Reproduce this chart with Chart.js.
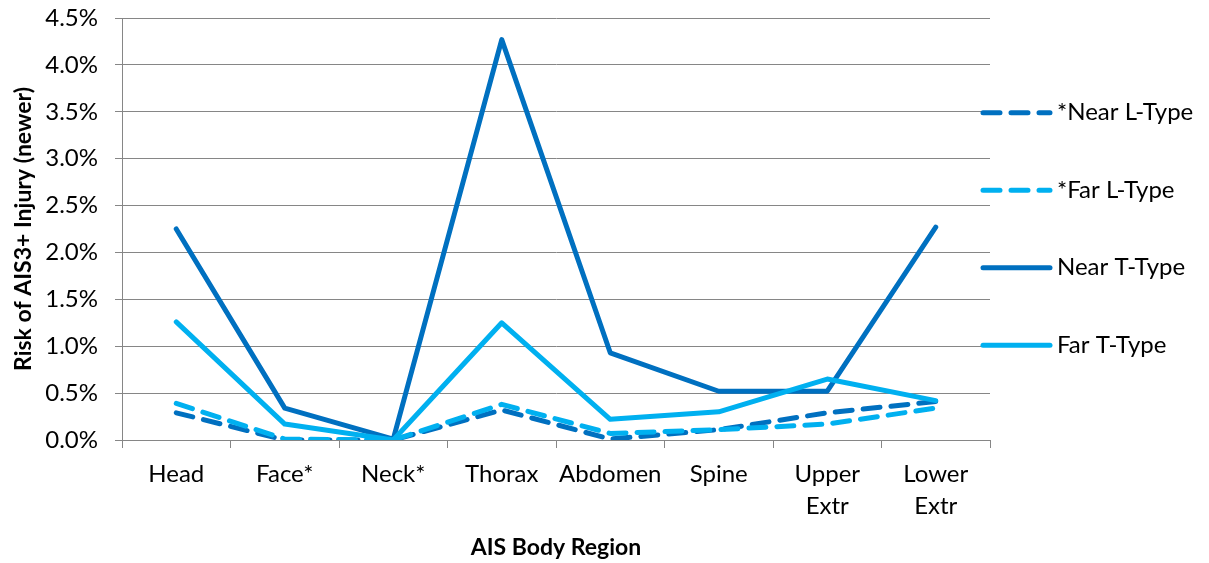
<!DOCTYPE html>
<html>
<head>
<meta charset="utf-8">
<script src="https://cdn.jsdelivr.net/npm/chart.js@4.4.0/dist/chart.umd.min.js"></script>
<style>
  html, body { margin: 0; padding: 0; background: #fff; }
  #box { width: 1209px; height: 563px; }
</style>
</head>
<body>
<div id="box"><canvas id="grafico"></canvas></div>
<script>
// dati (valori in %)
var regioni = ['Head', 'Face*', 'Neck*', 'Thorax', 'Abdomen', 'Spine', ['Upper', 'Extr'], ['Lower', 'Extr']];
var nomiSerie = ['*Near L-Type', '*Far L-Type', 'Near T-Type', 'Far T-Type'];
var nearL = [0.29, 0.00, 0.00, 0.32, 0.01, 0.11, 0.29, 0.41];
var farL = [0.39, 0.01, 0.00, 0.38, 0.07, 0.11, 0.17, 0.34];
var nearT = [2.25, 0.34, 0.01, 4.27, 0.93, 0.52, 0.52, 2.27];
var farT = [1.26, 0.17, 0.00, 1.25, 0.22, 0.30, 0.65, 0.42];
var tickY = [0, 0.5, 1.0, 1.5, 2.0, 2.5, 3.0, 3.5, 4.0, 4.5];

var scuro = '#0070C0';
var chiaro = '#00B0F0';
var grigio = '#868686';
var font = 'Lato';

function serie(nome, valori, colore, tratteggio, ordine) {
    return {
        label: nome,
        data: valori,
        borderColor: colore,
        backgroundColor: colore,
        borderWidth: 5,
        borderDash: tratteggio,
        borderCapStyle: 'round',
        borderJoinStyle: 'round',
        pointRadius: 0,
        tension: 0,
        fill: false,
        order: ordine
    };
}

// legenda disegnata a mano (quella di Chart.js non permette la spaziatura giusta)
var legendaDestra = {
    id: 'legendaDestra',
    afterDraw: function (chart) {
        var ctx = chart.ctx;
        var area = chart.chartArea;
        var centro = (area.top + area.bottom) / 2;
        var passo = 77.5;
        var ds = chart.data.datasets;
        ctx.save();
        for (var i = 0; i < ds.length; i++) {
            var y = centro + (i - (ds.length - 1) / 2) * passo;
            ctx.strokeStyle = ds[i].borderColor;
            ctx.lineWidth = ds[i].borderWidth;
            ctx.lineCap = 'round';
            ctx.setLineDash(ds[i].borderDash);
            ctx.beginPath();
            ctx.moveTo(983, y);
            ctx.lineTo(1050, y);
            ctx.stroke();
            ctx.setLineDash([]);
            ctx.fillStyle = '#000';
            ctx.font = '24px ' + font;
            ctx.textBaseline = 'middle';
            ctx.textAlign = 'left';
            ctx.fillText(ds[i].label, 1057, y);
        }
        ctx.restore();
    }
};

var ctx = document.getElementById('grafico').getContext('2d');
var chart = new Chart(ctx, {
    type: 'line',
    data: {
        labels: regioni,
        datasets: [
            serie(nomiSerie[0], nearL, scuro, [17, 11], 4),
            serie(nomiSerie[1], farL, chiaro, [17, 11], 3),
            serie(nomiSerie[2], nearT, scuro, [], 2),
            serie(nomiSerie[3], farT, chiaro, [], 1)
        ]
    },
    options: {
        responsive: true,
        maintainAspectRatio: false,
        animation: false,
        layout: { padding: { top: 18, right: 219, left: 0, bottom: 2 } },
        plugins: {
            legend: { display: false },
            tooltip: { enabled: false }
        },
        scales: {
            x: {
                offset: true,
                grid: { offset: true, drawOnChartArea: false, color: grigio, tickLength: 8, lineWidth: 1 },
                border: { color: grigio, width: 1 },
                ticks: { color: '#000', font: { family: font, size: 24, lineHeight: 1.35 }, padding: 10, maxRotation: 0, autoSkip: false },
                title: { display: true, text: 'AIS Body Region', color: '#000', font: { family: font, size: 23, weight: 'bold' }, padding: { top: 8, bottom: 0 } },
                afterFit: function (scale) {
                    scale.height = 121;
                    scale.paddingLeft = 0;
                    scale.paddingRight = 0;
                }
            },
            y: {
                min: 0,
                max: 4.5,
                afterBuildTicks: function (scale) {
                    scale.ticks = tickY.map(function (v) { return { value: v }; });
                },
                grid: { color: grigio, tickLength: 7, lineWidth: 1 },
                border: { color: grigio, width: 1 },
                ticks: {
                    color: '#000',
                    font: { family: font, size: 24 },
                    padding: 17,
                    callback: function (v) { return v.toFixed(1) + '%'; }
                },
                title: { display: true, text: 'Risk of AIS3+ Injury (newer)', color: '#000', font: { family: font, size: 23, weight: 'bold' }, padding: { top: 10, bottom: 4 } },
                afterFit: function (scale) {
                    scale.width = 122;
                    scale.paddingTop = 0;
                    scale.paddingBottom = 0;
                }
            }
        }
    },
    plugins: [legendaDestra]
});
</script>
</body>
</html>
